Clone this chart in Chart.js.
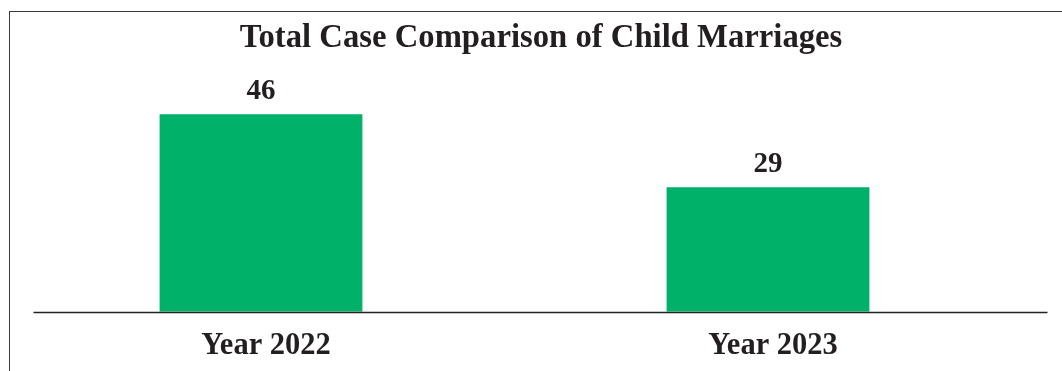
<!DOCTYPE html>
<html>
<head>
<meta charset="utf-8">
<script src="https://cdn.jsdelivr.net/npm/chart.js@4/dist/chart.umd.min.js"></script>
<style>
  html, body { margin: 0; padding: 0; background: #fff; overflow: hidden; }
  #wrap { position: relative; width: 1062px; height: 371px; }
  #frame { position: absolute; left: 9px; top: 11px; width: 1100px; height: 400px;
           border-left: 1.5px solid #3a3a3a; border-top: 1.5px solid #3a3a3a; pointer-events: none; }
</style>
</head>
<body>
<div id="wrap">
  <canvas id="canvas" width="1062" height="371"></canvas>
  <div id="frame"></div>
</div>
<script>
/* chart data */
var categories = ["Year 2022", "Year 2023"];
var caseCounts = [46, 29];
var chartTitle = "Total Case Comparison of Child Marriages";

var textColor = "#231f20";
var serif = "'Liberation Serif', 'Times New Roman', serif";

/* title centred on the whole canvas (not on the plot area) */
var pageTitle = {
  id: "pageTitle",
  afterDraw: function(chart) {
    var ctx = chart.ctx;
    ctx.save();
    ctx.font = "bold 32.7px " + serif;
    ctx.fillStyle = textColor;
    ctx.textAlign = "center";
    ctx.textBaseline = "alphabetic";
    ctx.fillText(chartTitle, chart.width / 2 + 10, 47);
    ctx.restore();
  }
};

/* value labels above each bar */
var barLabels = {
  id: "barLabels",
  afterDatasetsDraw: function(chart) {
    var ctx = chart.ctx;
    var meta = chart.getDatasetMeta(0);
    ctx.save();
    ctx.font = "bold 29px " + serif;
    ctx.fillStyle = textColor;
    ctx.textAlign = "center";
    ctx.textBaseline = "alphabetic";
    meta.data.forEach(function(bar, i) {
      ctx.fillText(String(caseCounts[i]), bar.x, bar.y - 15);
    });
    ctx.restore();
  }
};

/* baseline under the bars (slightly shifted right like the original) */
var baseLine = {
  id: "baseLine",
  afterDatasetsDraw: function(chart) {
    var ctx = chart.ctx, area = chart.chartArea;
    var y = Math.round(chart.scales.y.getPixelForValue(0)) + 0.5;
    ctx.save();
    ctx.strokeStyle = "#222";
    ctx.lineWidth = 1.3;
    ctx.beginPath();
    ctx.moveTo(area.left + 26, y);
    ctx.lineTo(area.right + 26, y);
    ctx.stroke();
    ctx.restore();
  }
};

var ctx = document.getElementById("canvas").getContext("2d");
var myBar = new Chart(ctx, {
  type: "bar",
  data: {
    labels: categories,
    datasets: [{
      data: caseCounts,
      backgroundColor: "#00b16a",
      borderWidth: 0,
      barPercentage: 0.4,
      categoryPercentage: 1.0
    }]
  },
  options: {
    responsive: false,
    animation: false,
    layout: { padding: { left: 7.5, right: 40.5, top: 97, bottom: 0 } },
    plugins: {
      legend: { display: false },
      tooltip: { enabled: false },
      title: { display: false }
    },
    scales: {
      x: {
        grid: { display: false },
        border: { display: false },
        ticks: {
          color: textColor,
          font: { family: serif, size: 30.5, weight: "bold" },
          padding: 8,
          labelOffset: 5
        },
        afterFit: function(axis) { axis.height = 59.3; }
      },
      y: {
        display: false,
        min: 0,
        max: 50
      }
    }
  },
  plugins: [barLabels, baseLine, pageTitle]
});
</script>
</body>
</html>
